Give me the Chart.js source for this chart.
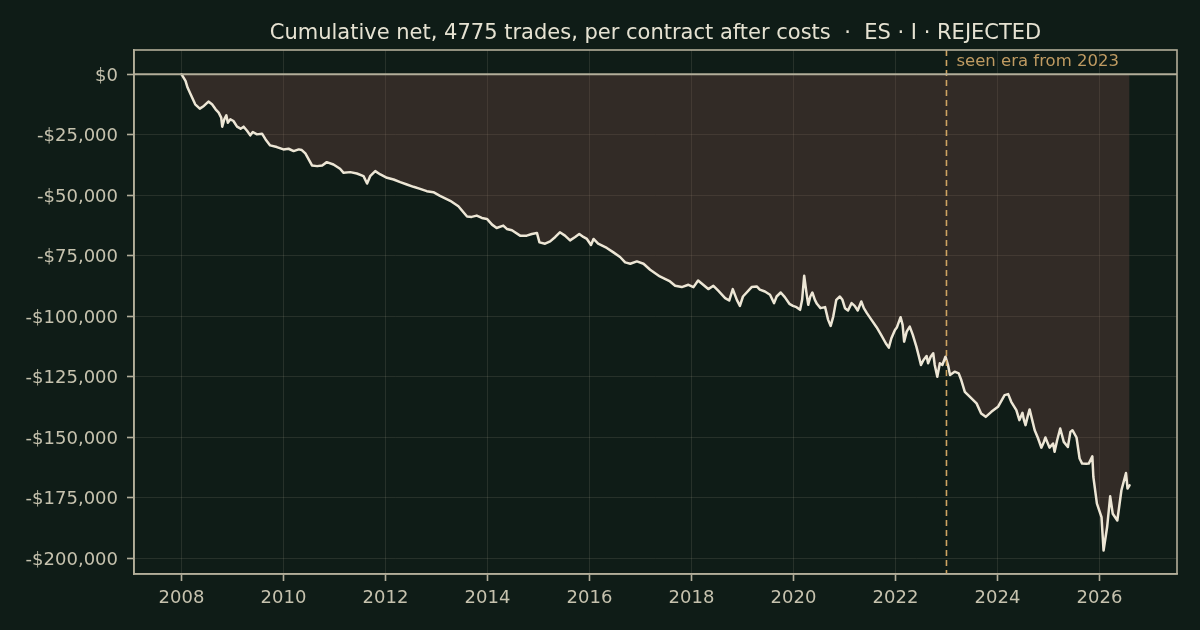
<!DOCTYPE html>
<html>
<head>
<meta charset="utf-8">
<script src="https://cdn.jsdelivr.net/npm/chart.js@4.4.1/dist/chart.umd.min.js"></script>
<style>
html, body { margin: 0; padding: 0; background: #0f1c17; }
#wrap { width: 1200px; height: 630px; }
</style>
</head>
<body>
<div id="wrap"><canvas id="equityChart" width="1200" height="630"></canvas></div>
<script>
// data -----------------------------------------------------------------------
var chartTitle = 'Cumulative net, 4775 trades, per contract after costs  \u00b7  ES \u00b7 I \u00b7 REJECTED';
var seenEraYear = 2023;
var seenEraLabel = 'seen era from 2023';

var tradeYears = [
    2008.00, 2008.08, 2008.12, 2008.18, 2008.27, 2008.36, 2008.44, 2008.53, 2008.60, 2008.67,
    2008.73, 2008.78, 2008.80, 2008.84, 2008.88, 2008.91, 2008.96,
    2009.02, 2009.09, 2009.16, 2009.22, 2009.29, 2009.35, 2009.40, 2009.48, 2009.58, 2009.65, 2009.74, 2009.87,
    2010.00, 2010.10, 2010.20, 2010.30, 2010.36, 2010.43, 2010.56, 2010.66, 2010.76, 2010.85, 2010.98,
    2011.11, 2011.18, 2011.31, 2011.44, 2011.57, 2011.64, 2011.70, 2011.80, 2011.90,
    2012.03, 2012.16, 2012.29, 2012.42, 2012.55, 2012.68, 2012.81, 2012.94,
    2013.07, 2013.27, 2013.43, 2013.60, 2013.69, 2013.79, 2013.89, 2013.99,
    2014.09, 2014.18, 2014.31, 2014.38, 2014.48, 2014.64, 2014.77, 2014.87, 2014.97,
    2015.02, 2015.13, 2015.23, 2015.33, 2015.42, 2015.52, 2015.62, 2015.72, 2015.80, 2015.88, 2015.95,
    2016.03, 2016.08, 2016.17, 2016.34, 2016.47, 2016.60, 2016.70, 2016.80, 2016.93,
    2017.06, 2017.19, 2017.38, 2017.58, 2017.68, 2017.81, 2017.94,
    2018.04, 2018.13, 2018.23, 2018.33, 2018.43, 2018.52, 2018.66, 2018.74, 2018.81, 2018.89, 2018.95,
    2019.01, 2019.18, 2019.28, 2019.34, 2019.44, 2019.54, 2019.62, 2019.67, 2019.75, 2019.83, 2019.92, 2019.99,
    2020.06, 2020.13, 2020.17, 2020.21, 2020.26, 2020.29, 2020.33, 2020.37, 2020.42, 2020.46, 2020.53,
    2020.62, 2020.68, 2020.73, 2020.78, 2020.84, 2020.91, 2020.96,
    2021.01, 2021.07, 2021.14, 2021.20, 2021.26, 2021.33, 2021.38, 2021.44, 2021.53, 2021.63, 2021.73,
    2021.81, 2021.87, 2021.92, 2021.99,
    2022.03, 2022.10, 2022.14, 2022.17, 2022.22, 2022.28, 2022.34, 2022.41, 2022.46, 2022.50, 2022.55,
    2022.61, 2022.64, 2022.69, 2022.74, 2022.77, 2022.82, 2022.87, 2022.92, 2022.98,
    2023.03, 2023.07, 2023.16, 2023.24, 2023.29, 2023.36, 2023.46, 2023.59, 2023.68, 2023.77, 2023.88,
    2024.01, 2024.14, 2024.21, 2024.27, 2024.37, 2024.43, 2024.49, 2024.52, 2024.55, 2024.59, 2024.63,
    2024.73, 2024.79, 2024.86, 2024.91, 2024.94,
    2025.02, 2025.09, 2025.12, 2025.17, 2025.23, 2025.30, 2025.38, 2025.43, 2025.47, 2025.55, 2025.61,
    2025.66, 2025.74, 2025.79, 2025.86, 2025.88, 2025.95,
    2026.04, 2026.08, 2026.15, 2026.21, 2026.26, 2026.35, 2026.43, 2026.52, 2026.55, 2026.59
];

var cumNet = [
    0, -2760, -5520, -8290, -12430, -14220, -13120, -11330, -12430, -14500,
    -15880, -17950, -21680, -18640, -16990, -20020, -18640,
    -19330, -21680, -22510, -21680, -23480, -25270, -23890, -24860, -24580, -26930, -29420, -30110,
    -31070, -30800, -31760, -31070, -31350, -32730, -37700, -37980, -37700, -36330, -37290,
    -39080, -40740, -40460, -41020, -42120, -45160, -42120, -40050, -41430,
    -42810, -43500, -44610, -45570, -46530, -47360, -48330, -48750,
    -50300, -52300, -54560, -58800, -58960, -58420, -59380, -59790,
    -62150, -63530, -62560, -63940, -64500, -66700, -66700, -66000, -65590,
    -69470, -70020, -69060, -67240, -65330, -66700, -68650, -67240, -66000, -67240, -68070,
    -70560, -68070, -70020, -71800, -73620, -75530, -77760, -78300, -77350,
    -78300, -80790, -83560, -85630, -87420, -87960, -87000,
    -87960, -85220, -87000, -88780, -87420, -89360, -92510, -93510, -88780, -93220, -95700,
    -91850, -87960, -87700, -89000, -89780, -91150, -94590, -91850, -90190, -92100, -94870, -95700,
    -96240, -97360, -93220, -83270, -91150, -95290, -91850, -90190, -93220, -94870, -96660,
    -96240, -101500, -103990, -100130, -93220, -91850, -93220,
    -96660, -97650, -94590, -95700, -97650, -93920, -96660, -98730, -101500, -104530, -108130,
    -111160, -112980, -109090, -105650,
    -104530, -100390, -103580, -110490, -106350, -104280, -107720, -112560, -116710, -120150, -118080,
    -116420, -119440, -116710, -115300, -120150, -124990, -119440, -120150, -116710,
    -120150, -124290, -122920, -123590, -126360, -131210, -133280, -136010, -140160, -141570, -139500,
    -137430, -132580, -132170, -135350, -138790, -142930, -139900, -142930, -145000, -141570, -138500,
    -147100, -150100, -154300, -151920, -150100,
    -154300, -152590, -156000, -151220, -146400, -151900, -154000, -147780, -147100, -150100, -158800,
    -160880, -160900, -160880, -157900, -166400, -177400,
    -183000, -196800, -187100, -174400, -181600, -184400, -171900, -164800, -171200, -169900
];

var yearTicks = [2008, 2010, 2012, 2014, 2016, 2018, 2020, 2022, 2024, 2026];
var dollarTicks = [0, -25000, -50000, -75000, -100000, -125000, -150000, -175000, -200000];

// colours ---------------------------------------------------------------------
var BG = '#0f1c17';
var SPINE = '#b3ae9a';
var TICK_TEXT = '#c6c2ae';
var CREAM = '#ede6d5';
var GOLD = '#cfa462';

function money(v) {
    return (v < 0 ? '-' : '') + '$' + Math.abs(v).toLocaleString('en-US');
}

var points = tradeYears.map(function (yr, i) { return { x: yr, y: cumNet[i] }; });

// background, title, box, zero line, era marker
var decorPlugin = {
    id: 'decor',
    beforeDraw: function (chart) {
        var ctx = chart.ctx;
        ctx.save();
        ctx.fillStyle = BG;
        ctx.fillRect(0, 0, chart.width, chart.height);
        ctx.restore();
    },
    afterDatasetsDraw: function (chart) {
        var ctx = chart.ctx, a = chart.chartArea;
        var xs = chart.scales.x, ys = chart.scales.y;
        ctx.save();

        // era marker
        var ex = xs.getPixelForValue(seenEraYear);
        ctx.strokeStyle = GOLD;
        ctx.lineWidth = 1.6;
        ctx.setLineDash([6, 4]);
        ctx.beginPath();
        ctx.moveTo(ex, a.top);
        ctx.lineTo(ex, a.bottom);
        ctx.stroke();
        ctx.setLineDash([]);

        ctx.fillStyle = '#bf9b62';
        ctx.font = '16.5px "DejaVu Sans"';
        ctx.textAlign = 'left';
        ctx.textBaseline = 'alphabetic';
        ctx.fillText(seenEraLabel, ex + 10, a.top + 15.5);

        // zero line
        var zy = ys.getPixelForValue(0);
        ctx.strokeStyle = SPINE;
        ctx.lineWidth = 2;
        ctx.beginPath();
        ctx.moveTo(a.left, zy);
        ctx.lineTo(a.right, zy);
        ctx.stroke();
        ctx.restore();
    },
    afterDraw: function (chart) {
        var ctx = chart.ctx, a = chart.chartArea;
        ctx.save();
        ctx.strokeStyle = SPINE;
        ctx.lineWidth = 1.6;
        ctx.strokeRect(a.left, a.top, a.right - a.left, a.bottom - a.top);

        ctx.fillStyle = '#e6e2d2';
        ctx.font = '21px "DejaVu Sans"';
        ctx.textAlign = 'center';
        ctx.textBaseline = 'alphabetic';
        ctx.fillText(chartTitle, (a.left + a.right) / 2, 38.5);
        ctx.restore();
    }
};

var ctxEl = document.getElementById('equityChart');

var chart = new Chart(ctxEl, {
    type: 'line',
    data: {
        datasets: [{
            label: 'Cumulative net',
            data: points,
            borderColor: CREAM,
            borderWidth: 2.5,
            borderJoinStyle: 'round',
            borderCapStyle: 'round',
            pointRadius: 0,
            tension: 0,
            fill: { target: { value: 0 } },
            backgroundColor: 'rgba(132,78,73,0.3)'
        }]
    },
    options: {
        responsive: false,
        animation: false,
        devicePixelRatio: 1,
        layout: { padding: { top: 50, right: 23, left: 0, bottom: 0 } },
        plugins: {
            legend: { display: false },
            title: { display: false },
            tooltip: { enabled: false }
        },
        scales: {
            x: {
                type: 'linear',
                min: 2007.07,
                max: 2027.52,
                afterBuildTicks: function (scale) {
                    scale.ticks = yearTicks.map(function (v) { return { value: v }; });
                },
                afterFit: function (scale) { scale.height = 56; },
                ticks: {
                    color: TICK_TEXT,
                    font: { family: 'DejaVu Sans', size: 18 },
                    padding: 7,
                    maxRotation: 0,
                    callback: function (v) { return String(v); }
                },
                grid: {
                    color: 'rgba(210,205,185,0.12)',
                    lineWidth: 1,
                    tickColor: SPINE,
                    tickLength: 7,
                    tickWidth: 1.6
                },
                border: { display: true, color: SPINE, width: 1.6 }
            },
            y: {
                type: 'linear',
                min: -206500,
                max: 10000,
                afterBuildTicks: function (scale) {
                    scale.ticks = dollarTicks.map(function (v) { return { value: v }; });
                },
                afterFit: function (scale) { scale.width = 134; },
                ticks: {
                    color: TICK_TEXT,
                    font: { family: 'DejaVu Sans', size: 18 },
                    padding: 9,
                    labelOffset: 2,
                    callback: function (v) { return money(v); }
                },
                grid: {
                    color: 'rgba(210,205,185,0.12)',
                    lineWidth: 1,
                    tickColor: SPINE,
                    tickLength: 7,
                    tickWidth: 1.6
                },
                border: { display: true, color: SPINE, width: 1.6 }
            }
        }
    },
    plugins: [decorPlugin]
});
</script>
</body>
</html>
